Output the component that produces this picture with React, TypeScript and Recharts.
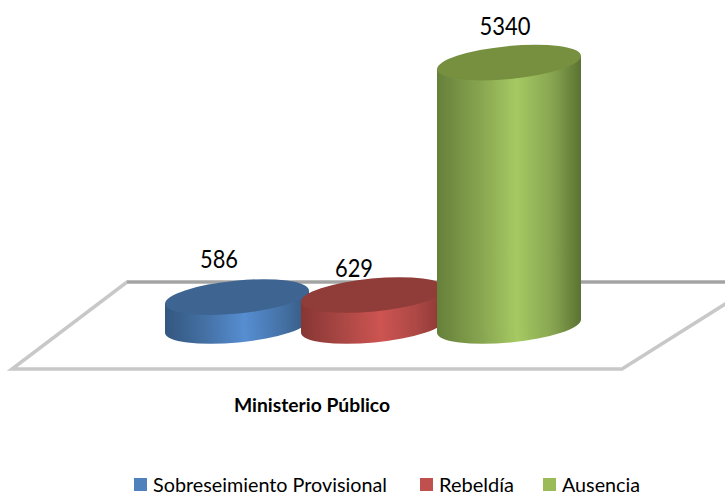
import React from "react";
import { BarChart, Bar, XAxis, YAxis, Legend, LabelList, Customized } from "recharts";

const categories = ["Ministerio Público"];
const seriesNames = ["Sobreseimiento Provisional", "Rebeldía", "Ausencia"];
const sobreseimiento = [586];
const rebeldia = [629];
const ausencia = [5340];
const yDomain = [0, 6000];

const data = categories.map((name, i) => ({
  name,
  [seriesNames[0]]: sobreseimiento[i],
  [seriesNames[1]]: rebeldia[i],
  [seriesNames[2]]: ausencia[i],
}));

const FONT = "Lato, 'Noto Sans', sans-serif";
const TILT = -5.5;
const RY = 16.5;

const palette: Record<string, { legend: string; stops: [string, string, string, string]; top: string }> = {
  [seriesNames[0]]: { legend: "#4f81bd", stops: ["#33577f", "#4673a8", "#568ed2", "#34597f"], top: "#3e6591" },
  [seriesNames[1]]: { legend: "#c0504d", stops: ["#873634", "#ac4845", "#cd5451", "#893735"], top: "#903c39" },
  [seriesNames[2]]: { legend: "#9bbb59", stops: ["#66803a", "#87a550", "#a6c963", "#5b7232"], top: "#76903f" },
};

function Cylinder(props: any) {
  const { x, y, width, height, series } = props;
  const p = palette[series];
  const cx = x + width / 2;
  const th = (TILT * Math.PI) / 180;
  const hw = width / 2;
  const a = Math.sqrt(hw * hw - RY * RY * Math.sin(th) ** 2) / Math.cos(th);
  const t = Math.atan2(-RY * Math.sin(th), a * Math.cos(th));
  const ex = a * Math.cos(t) * Math.cos(th) - RY * Math.sin(t) * Math.sin(th);
  const ey = a * Math.cos(t) * Math.sin(th) + RY * Math.sin(t) * Math.cos(th);
  const bottom = y + height;
  const id = "cyl" + series.charCodeAt(0);
  const pts = [
    [cx - ex, y - ey],
    [cx - ex, bottom - ey],
    [cx + ex, bottom + ey],
    [cx + ex, y + ey],
  ]
    .map((q) => q.join(","))
    .join(" ");
  return (
    <g>
      <defs>
        <linearGradient id={id} gradientUnits="userSpaceOnUse" x1={cx - ex} y1={0} x2={cx + ex} y2={0}>
          <stop offset="0" stopColor={p.stops[0]} />
          <stop offset="0.3" stopColor={p.stops[1]} />
          <stop offset="0.55" stopColor={p.stops[2]} />
          <stop offset="0.8" stopColor={p.stops[1]} />
          <stop offset="1" stopColor={p.stops[3]} />
        </linearGradient>
      </defs>
      <ellipse cx={cx} cy={bottom} rx={a} ry={RY} fill={`url(#${id})`} transform={`rotate(${TILT} ${cx} ${bottom})`} />
      <polygon points={pts} fill={`url(#${id})`} />
      <ellipse cx={cx} cy={y} rx={a} ry={RY} fill={p.top} transform={`rotate(${TILT} ${cx} ${y})`} />
    </g>
  );
}

function Floor() {
  return (
    <g>
      <polygon points="127,282 760,282 622,369 12,369" fill="none" stroke="#c8c8c8" strokeWidth={3.5} />
      <line x1={127} y1={282} x2={725} y2={282} stroke="#a3a3a3" strokeWidth={3} />
    </g>
  );
}

function CategoryTick({ x, y, payload }: any) {
  return (
    <text x={x - 61} y={y + 78} textAnchor="middle" fontFamily={FONT} fontSize={18.5} fontWeight={700} fill="#000" textLength={156} lengthAdjust="spacingAndGlyphs">
      {payload.value}
    </text>
  );
}

function valueLabel(dx: number, dy: number, len: number) {
  return ({ x, y, width, value }: any) => (
    <text x={x + width / 2 + dx} y={y + dy} textAnchor="middle" fontFamily={FONT} fontSize={24.5} fill="#000" textLength={len} lengthAdjust="spacingAndGlyphs">
      {value}
    </text>
  );
}

const legendLayout = [
  { square: 134, text: 153, width: 234 },
  { square: 420, text: 439, width: 75 },
  { square: 543, text: 562, width: 78 },
];

function LegendContent({ payload }: any) {
  return (
    <div style={{ position: "relative", height: 0, fontFamily: FONT }}>
      {seriesNames.map((name, i) => {
        const item = (payload ?? []).find((d: any) => d.value === name);
        return (
          <React.Fragment key={name}>
            <span style={{ position: "absolute", left: legendLayout[i].square, top: 478, width: 13, height: 13, background: item?.color }} />
            <svg style={{ position: "absolute", left: legendLayout[i].text, top: 472, overflow: "visible" }} width={legendLayout[i].width} height={26}>
              <text x={0} y={20} fontSize={19} fontFamily={FONT} fill="#000" textLength={legendLayout[i].width} lengthAdjust="spacingAndGlyphs">
                {name}
              </text>
            </svg>
          </React.Fragment>
        );
      })}
    </div>
  );
}

const labelOffsets = [
  [-18, -29, 38],
  [-19, -18, 38],
  [-4, -28, 51],
];

export default function App() {
  return (
    <div style={{ position: "absolute", left: 0, top: 0, width: 725, height: 497, background: "#fff" }}>
      <BarChart
        width={725}
        height={497}
        data={data}
        margin={{ top: 30, right: 102, bottom: 141, left: 123 }}
        barSize={144}
        barGap={-8}
      >
        <Customized component={Floor} />
        <XAxis dataKey="name" axisLine={false} tickLine={false} height={30} interval={0} tick={<CategoryTick />} />
        <YAxis hide domain={yDomain} />
        <Legend content={<LegendContent />} wrapperStyle={{ left: 0, top: 0, width: 725, height: 0 }} />
        {seriesNames.map((s, i) => (
          <Bar key={s} dataKey={s} name={s} fill={palette[s].legend} isAnimationActive={false} shape={<Cylinder series={s} />}>
            <LabelList dataKey={s} content={valueLabel(labelOffsets[i][0], labelOffsets[i][1], labelOffsets[i][2])} />
          </Bar>
        ))}
      </BarChart>
    </div>
  );
}
